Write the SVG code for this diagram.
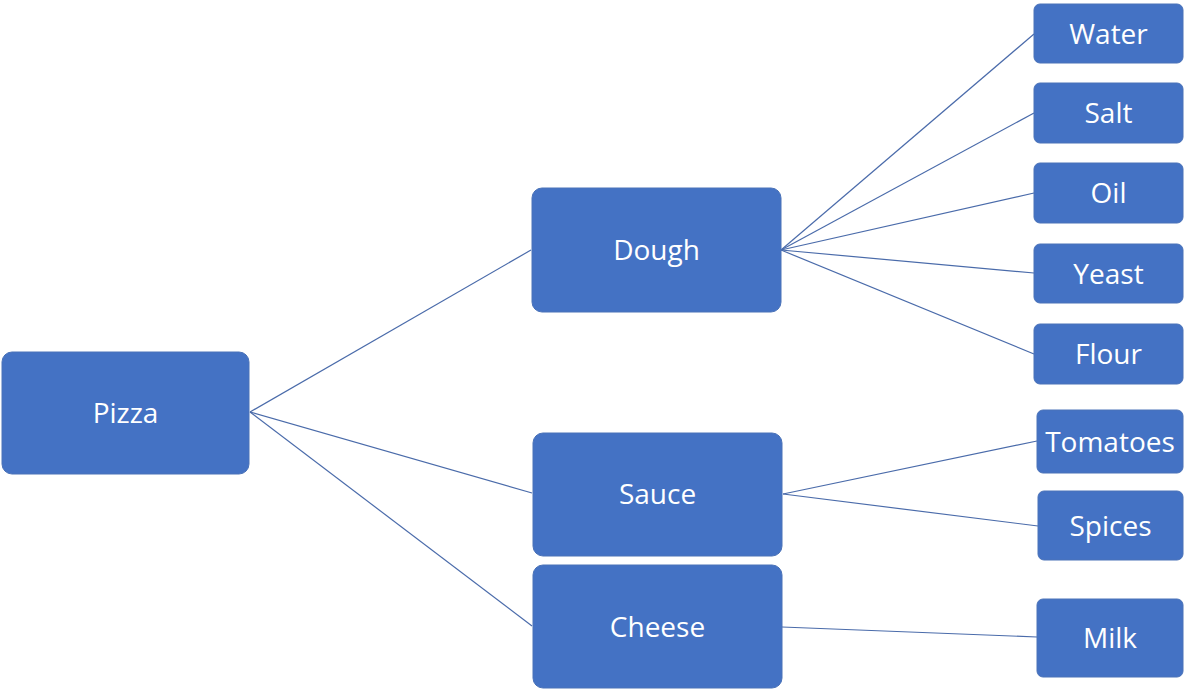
<svg xmlns="http://www.w3.org/2000/svg" width="1200" height="690" viewBox="0 0 1200 690">
<style>
.box{fill:#4472C4;stroke:#4a72b8;stroke-width:1}
.lbl{font-family:"Open Sans","Noto Sans","Liberation Sans",sans-serif;font-size:28px;fill:#ffffff;text-anchor:middle}
.con line{stroke:#4A6BAA;stroke-width:1.2;fill:none}
</style>
<rect width="1200" height="690" fill="#ffffff"/>
<g class="con" id="connectors">
<line x1="250" y1="412" x2="531" y2="250"/>
<line x1="250" y1="412" x2="532" y2="493"/>
<line x1="250" y1="412" x2="532" y2="626"/>
<line x1="781" y1="250" x2="1034" y2="34"/>
<line x1="781" y1="250" x2="1034" y2="113"/>
<line x1="781" y1="250" x2="1034" y2="193"/>
<line x1="781" y1="250" x2="1034" y2="273"/>
<line x1="781" y1="250" x2="1034" y2="354"/>
<line x1="783" y1="494" x2="1037" y2="441"/>
<line x1="783" y1="494" x2="1038" y2="526"/>
<line x1="782" y1="627" x2="1037" y2="637"/>
</g>
<g id="pizza"><rect class="box" x="2" y="352" width="247" height="122" rx="10"/><text class="lbl" x="125.5" y="423">Pizza</text></g>
<g id="dough"><rect class="box" x="532" y="188" width="249" height="124" rx="10"/><text class="lbl" x="656.5" y="260">Dough</text></g>
<g id="sauce"><rect class="box" x="533" y="433" width="249" height="123" rx="10"/><text class="lbl" x="657.5" y="504">Sauce</text></g>
<g id="cheese"><rect class="box" x="533" y="565" width="249" height="123" rx="10"/><text class="lbl" x="657.5" y="637">Cheese</text></g>
<g id="water"><rect class="box" x="1034" y="4" width="149" height="59" rx="6"/><text class="lbl" x="1108.5" y="44">Water</text></g>
<g id="salt"><rect class="box" x="1034" y="83" width="149" height="60" rx="6"/><text class="lbl" x="1108.5" y="123">Salt</text></g>
<g id="oil"><rect class="box" x="1034" y="163" width="149" height="60" rx="6"/><text class="lbl" x="1108.5" y="203">Oil</text></g>
<g id="yeast"><rect class="box" x="1034" y="244" width="149" height="59" rx="6"/><text class="lbl" x="1108.5" y="284">Yeast</text></g>
<g id="flour"><rect class="box" x="1034" y="324" width="149" height="60" rx="6"/><text class="lbl" x="1108.5" y="364">Flour</text></g>
<g id="tomatoes"><rect class="box" x="1037" y="410" width="146" height="63" rx="6"/><text class="lbl" x="1110" y="452">Tomatoes</text></g>
<g id="spices"><rect class="box" x="1038" y="491" width="145" height="69" rx="6"/><text class="lbl" x="1110.5" y="536">Spices</text></g>
<g id="milk"><rect class="box" x="1037" y="599" width="146" height="78" rx="6"/><text class="lbl" x="1110" y="648">Milk</text></g>
</svg>
